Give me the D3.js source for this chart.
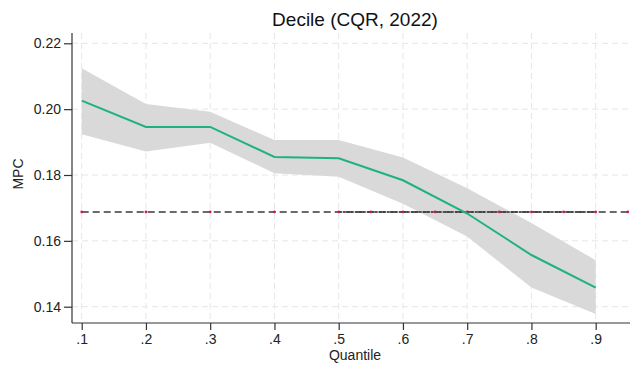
<!DOCTYPE html>
<html>
<head>
<meta charset="utf-8">
<script src="https://cdn.jsdelivr.net/npm/d3@7"></script>
<style>
  html, body { margin: 0; padding: 0; background: #fff; }
  svg { display: block; font-family: "Liberation Sans", Arial, sans-serif; }
</style>
</head>
<body>
<svg id="chart" width="630" height="367"></svg>
<script>
// Quantile grid and estimated MPC with confidence band
const quantiles = [0.1, 0.2, 0.3, 0.4, 0.5, 0.6, 0.7, 0.8, 0.9];
const mpc      = [0.2026, 0.1946, 0.1946, 0.1855, 0.1851, 0.1784, 0.1683, 0.1557, 0.1458];
const ciUpper  = [0.2124, 0.2016, 0.1992, 0.1906, 0.1906, 0.1853, 0.1760, 0.1654, 0.1541];
const ciLower  = [0.1924, 0.1871, 0.1898, 0.1805, 0.1795, 0.1713, 0.1613, 0.1458, 0.1378];

// Reference MPC level (horizontal line)
const refLevel = 0.1688;
const refExtent = [0.1, 0.95];
const refDetailExtent = [0.5, 0.9];
const refMarkers = [0.1, 0.2, 0.3, 0.4, 0.5, 0.55, 0.6, 0.65, 0.7, 0.75, 0.8, 0.85, 0.9, 0.95];

const xTicks = [0.1, 0.2, 0.3, 0.4, 0.5, 0.6, 0.7, 0.8, 0.9];
const xTickLabels = [".1", ".2", ".3", ".4", ".5", ".6", ".7", ".8", ".9"];
const yTicks = [0.14, 0.16, 0.18, 0.20, 0.22];

const svg = d3.select("#chart");
const plot = { left: 72, right: 628, top: 33, bottom: 323 };
const fontFamily = '"Liberation Sans", Arial, sans-serif';

const x = d3.scaleLinear().domain([0.1, 0.9]).range([81.7, 595.7]);
const y = d3.scaleLinear().domain([0.14, 0.22]).range([306.7, 43.3]);

// Grid
const grid = svg.append("g").attr("stroke", "#e6e6e6").attr("stroke-width", 1)
  .attr("stroke-dasharray", "6,4");
xTicks.forEach(t => grid.append("line")
  .attr("x1", x(t)).attr("x2", x(t)).attr("y1", plot.top).attr("y2", plot.bottom));
yTicks.forEach(t => grid.append("line")
  .attr("x1", plot.left).attr("x2", plot.right).attr("y1", y(t)).attr("y2", y(t)));

// Confidence band
const band = d3.area()
  .x((d, i) => x(quantiles[i]))
  .y0((d, i) => y(ciLower[i]))
  .y1((d, i) => y(ciUpper[i]));
svg.append("path").datum(quantiles).attr("d", band).attr("fill", "#d9d9d9");

// Reference line
svg.append("line")
  .attr("x1", x(refExtent[0])).attr("x2", x(refExtent[1]))
  .attr("y1", y(refLevel)).attr("y2", y(refLevel))
  .attr("stroke", "#6a6a6a").attr("stroke-width", 2).attr("stroke-dasharray", "7,4");
svg.append("line")
  .attr("x1", x(refDetailExtent[0])).attr("x2", x(refDetailExtent[1]))
  .attr("y1", y(refLevel)).attr("y2", y(refLevel))
  .attr("stroke", "#3c3c3c").attr("stroke-width", 2).attr("stroke-opacity", 0.85)
  .attr("stroke-dasharray", "3,1");
svg.append("g").selectAll("circle").data(refMarkers).join("circle")
  .attr("cx", d => x(d)).attr("cy", y(refLevel)).attr("r", 1.3)
  .attr("fill", "#d41159");

// MPC estimate line
const line = d3.line().x((d, i) => x(quantiles[i])).y(d => y(d));
svg.append("path").datum(mpc).attr("d", line)
  .attr("fill", "none").attr("stroke", "#1fb27c").attr("stroke-width", 2);

// Axes
const yAxis = d3.axisLeft(y).tickValues(yTicks).tickFormat(d3.format(".2f"))
  .tickSize(8).tickPadding(3);
const gy = svg.append("g").attr("transform", `translate(${plot.left},0)`).call(yAxis);
gy.select(".domain").attr("d", `M0,${plot.top}V${plot.bottom}`);

const xAxis = d3.axisBottom(x).tickValues(xTicks)
  .tickFormat((d, i) => xTickLabels[i]).tickSize(7).tickPadding(4);
const gx = svg.append("g").attr("transform", `translate(0,${plot.bottom})`).call(xAxis);
gx.select(".domain").attr("d", `M${plot.left},0H${plot.right + 2}`);

[gx, gy].forEach(g => {
  g.attr("font-family", fontFamily);
  g.selectAll("path, line").attr("stroke", "#333").attr("stroke-width", 1.2);
  g.selectAll("text").attr("fill", "#222").style("font-size", "14px");
});

// Titles
svg.append("text").attr("x", 355).attr("y", 26).attr("text-anchor", "middle")
  .style("font-size", "19px").attr("fill", "#111").text("Decile (CQR, 2022)");
svg.append("text").attr("x", 355).attr("y", 360).attr("text-anchor", "middle")
  .style("font-size", "14px").attr("fill", "#222").text("Quantile");
svg.append("text").attr("transform", "translate(23,174) rotate(-90)")
  .attr("text-anchor", "middle").style("font-size", "14px").attr("fill", "#222").text("MPC");
</script>
</body>
</html>
